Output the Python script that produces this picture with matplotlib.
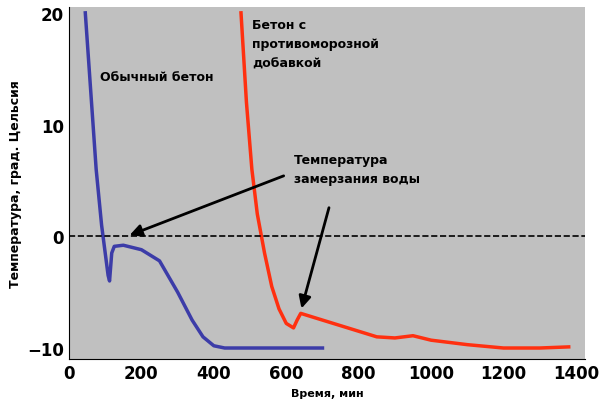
import matplotlib.pyplot as plt

# Обычный бетон
blue_t = [45, 60, 75, 90, 100, 108, 112, 118, 125, 150, 200, 250, 300, 340, 370, 400, 430, 500, 600, 700]
blue_v = [20, 13, 6, 1, -1.5, -3.5, -4, -1.5, -0.9, -0.8, -1.2, -2.2, -5, -7.5, -9, -9.8, -10, -10, -10, -10]
# Бетон с противоморозной добавкой
red_t = [475, 490, 505, 520, 540, 560, 580, 600, 620, 630, 640, 660, 700, 750, 800, 850, 900, 950, 1000, 1100, 1200, 1300, 1380]
red_v = [20, 12, 6, 2, -1.5, -4.5, -6.5, -7.8, -8.2, -7.5, -6.9, -7.1, -7.5, -8.0, -8.5, -9.0, -9.1, -8.9, -9.3, -9.7, -10, -10, -9.9]

fig = plt.figure(figsize=(6, 4.14), dpi=100)
ax = fig.add_axes([0.115, 0.13, 0.86, 0.85])
ax.set_facecolor('#c0c0c0')

ax.plot(blue_t, blue_v, color='#3c3ca8', linewidth=2.5)
ax.plot(red_t, red_v, color='#ff3010', linewidth=2.5)
ax.axhline(0, color='black', linestyle='--', linewidth=1.2)

ax.set_xlim(0, 1425)
ax.set_ylim(-11, 20.5)
ax.set_xticks([0, 200, 400, 600, 800, 1000, 1200, 1400])
ax.set_yticks([-10, 0, 10, 20])
ax.tick_params(labelsize=12, length=0)
for lab in ax.get_xticklabels() + ax.get_yticklabels():
    lab.set_fontweight('bold')
for s in ['top', 'right']:
    ax.spines[s].set_visible(False)

ax.set_xlabel('Время, мин', fontsize=8, fontweight='bold')
ax.set_ylabel('Температура, град. Цельсия', fontsize=9, fontweight='bold')

ax.text(85, 14.0, 'Обычный бетон', fontsize=9, fontweight='bold')
ax.text(505, 19.5, 'Бетон с\nпротивоморозной\nдобавкой', fontsize=9, fontweight='bold',
        va='top', linespacing=1.6)
ax.text(620, 7.5, 'Температура\nзамерзания воды', fontsize=9, fontweight='bold',
        va='top', linespacing=1.6)

arrow = dict(arrowstyle='-|>', color='black', lw=2, mutation_scale=18)
ax.annotate('', xy=(160, 0), xytext=(600, 5.5), arrowprops=arrow)
ax.annotate('', xy=(640, -6.7), xytext=(720, 2.8), arrowprops=arrow)

fig.savefig('out.png', dpi=100)
